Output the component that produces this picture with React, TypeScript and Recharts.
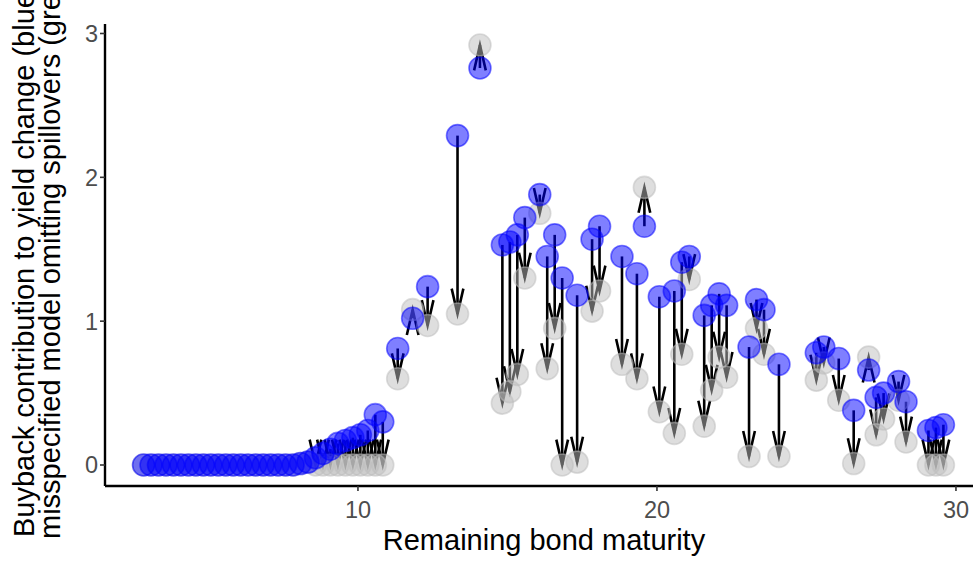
import React from "react";
import { ComposedChart, Scatter, XAxis, YAxis, ReferenceLine } from "recharts";

// remaining maturity (years) of each bond
const maturity = [
  2.83, 3.08, 3.33, 3.58, 3.83, 4.08, 4.33, 4.58, 4.83, 5.08, 5.33, 5.58, 5.83, 6.08, 6.33, 6.58,
  6.83, 7.08, 7.33, 7.58, 7.83, 8.08, 8.33, 8.58, 8.83, 9.08, 9.33, 9.58, 9.83, 10.08, 10.33, 10.58,
  10.83, 11.33, 11.83, 12.33, 13.33, 14.08, 14.83, 15.08, 15.33, 15.58, 16.08, 16.33, 16.58, 16.83,
  17.33, 17.83, 18.08, 18.83, 19.33, 19.58, 20.08, 20.58, 20.83, 21.08, 21.58, 21.83, 22.08, 22.33,
  23.08, 23.33, 23.58, 24.08, 25.33, 25.58, 26.08, 26.58, 27.08, 27.33, 27.58, 28.08, 28.33, 29.08,
  29.33, 29.58,
];

// full model, spillovers included (blue)
const specified = [
  0, 0, 0, 0, 0, 0, 0, 0, 0, 0, 0, 0, 0, 0, 0, 0,
  0, 0, 0, 0, 0, 0.01, 0.02, 0.05, 0.08, 0.11, 0.15, 0.17, 0.19, 0.21, 0.24, 0.35,
  0.3, 0.81, 1.02, 1.24, 2.29, 2.76, 1.53, 1.55, 1.6, 1.72, 1.88, 1.45, 1.6, 1.3,
  1.18, 1.57, 1.66, 1.45, 1.33, 1.66, 1.17, 1.21, 1.41, 1.45, 1.04, 1.11, 1.19, 1.11,
  0.82, 1.15, 1.08, 0.7, 0.78, 0.82, 0.74, 0.38, 0.66, 0.47, 0.5, 0.58, 0.44, 0.24,
  0.26, 0.28,
];

// misspecified model omitting spillovers (grey)
const misspecified = [
  0, 0, 0, 0, 0, 0, 0, 0, 0, 0, 0, 0, 0, 0, 0, 0,
  0, 0, 0, 0, 0, 0.01, 0.02, 0, 0, 0, 0, 0, 0, 0, 0, 0,
  0, 0.6, 1.08, 0.97, 1.05, 2.92, 0.43, 0.51, 0.63, 1.3, 1.75, 0.67, 0.95, 0,
  0.02, 1.07, 1.21, 0.7, 0.6, 1.93, 0.37, 0.22, 0.77, 1.29, 0.27, 0.52, 0.75, 0.61,
  0.06, 0.95, 0.77, 0.06, 0.59, 0.71, 0.45, 0.01, 0.75, 0.21, 0.32, 0.45, 0.16, 0,
  0, 0,
];

const xTicks = [10, 20, 30];
const yTicks = [0, 1, 2, 3];

const rows = maturity.map((m, i) => ({ maturity: m, blue: specified[i], grey: misspecified[i] }));

const FONT = "'Liberation Sans', Arial, Helvetica, sans-serif";

const dot = (color: string) => (p: any) => (
  <circle cx={p.cx} cy={p.cy} r={11} fill={color} fillOpacity={0.5} stroke={color} strokeOpacity={0.5} strokeWidth={1.6} />
);

// segment + open arrowhead pointing at the grey point
function Arrow(p: any) {
  const { x1, y1, x2, y2 } = p;
  if ([x1, y1, x2, y2].some((v) => typeof v !== "number" || Number.isNaN(v))) return <g />;
  let dx = x2 - x1;
  let dy = y2 - y1;
  const len = Math.hypot(dx, dy) || 1;
  dx /= len;
  dy /= len;
  const L = 26;
  const a = (13 * Math.PI) / 180;
  const bx = -dx, by = -dy;
  const p1x = x2 + L * (bx * Math.cos(a) - by * Math.sin(a));
  const p1y = y2 + L * (bx * Math.sin(a) + by * Math.cos(a));
  const p2x = x2 + L * (bx * Math.cos(-a) - by * Math.sin(-a));
  const p2y = y2 + L * (bx * Math.sin(-a) + by * Math.cos(-a));
  return (
    <g>
      <line x1={x1} y1={y1} x2={x2} y2={y2} stroke="#000" strokeWidth={2.6} />
      <polyline
        points={`${p1x},${p1y} ${x2},${y2} ${p2x},${p2y}`}
        fill="none"
        stroke="#000"
        strokeWidth={2.6}
        strokeLinejoin="miter"
        strokeMiterlimit={10}
      />
    </g>
  );
}

const XTick = (p: any) => (
  <text x={p.x} y={p.y + 25} textAnchor="middle" fill="#4D4D4D" fontSize={23.5} fontFamily={FONT}>
    {p.payload.value}
  </text>
);

const YTick = (p: any) => (
  <text x={p.x + 1} y={p.y + 8.4} textAnchor="end" fill="#4D4D4D" fontSize={23.5} fontFamily={FONT}>
    {p.payload.value}
  </text>
);

export default function App() {
  return (
    <div style={{ position: "relative", width: 973, height: 561, background: "#fff", overflow: "hidden" }}>
      <style>{"body{margin:0}"}</style>
      <ComposedChart width={973} height={561} data={rows} margin={{ top: 24, right: 0, bottom: 0, left: 0 }}>
        <XAxis
          type="number"
          dataKey="maturity"
          domain={[1.54, 30.57]}
          ticks={xTicks}
          allowDataOverflow
          height={75}
          tickSize={5}
          tickMargin={2}
          axisLine={{ stroke: "#000", strokeWidth: 2.4 }}
          tickLine={{ stroke: "#333", strokeWidth: 1.6 }}
          tick={<XTick />}
        />
        <YAxis
          type="number"
          domain={[-0.146, 3.066]}
          ticks={yTicks}
          allowDataOverflow
          width={105}
          tickSize={5}
          tickMargin={3}
          axisLine={{ stroke: "#000", strokeWidth: 2.4 }}
          tickLine={{ stroke: "#333", strokeWidth: 1.6 }}
          tick={<YTick />}
        />
        <Scatter dataKey="grey" shape={dot("#BEBEBE")} isAnimationActive={false} />
        <Scatter dataKey="blue" shape={dot("#0000FF")} isAnimationActive={false} />
        {rows
          .filter((r) => r.blue !== r.grey)
          .map((r) => (
            <ReferenceLine
              key={r.maturity}
              segment={[
                { x: r.maturity, y: r.blue },
                { x: r.maturity, y: r.grey },
              ]}
              ifOverflow="visible"
              shape={Arrow}
            />
          ))}
      </ComposedChart>
      <svg width={973} height={561} style={{ position: "absolute", left: 0, top: 0, pointerEvents: "none" }}>
        <text x={544} y={550} textAnchor="middle" fontSize={29} fontFamily={FONT} fill="#000">
          Remaining bond maturity
        </text>
        <text x={34} y={537} transform="rotate(-90 34 537)" fontSize={29} fontFamily={FONT} fill="#000">
          Buyback contribution to yield change (blue)
        </text>
        <text x={60} y={539} transform="rotate(-90 60 539)" fontSize={29} fontFamily={FONT} fill="#000">
          misspecified model omitting spillovers (grey)
        </text>
      </svg>
    </div>
  );
}
